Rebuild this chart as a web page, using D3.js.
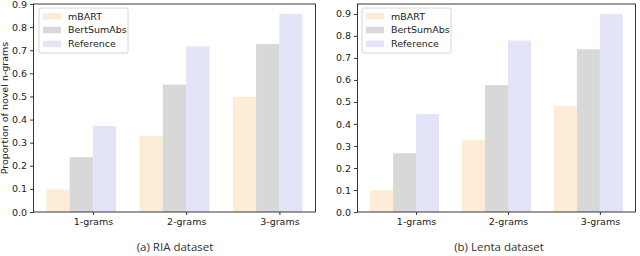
<!DOCTYPE html>
<html>
<head>
<meta charset="utf-8">
<script src="https://cdn.jsdelivr.net/npm/d3@7"></script>
<style>
  body { margin: 0; background: #fff; }
  text { font-family: "DejaVu Sans", sans-serif; }
</style>
</head>
<body>
<div class="chart"></div>
<script>
var categories = ["1-grams", "2-grams", "3-grams"];
var seriesNames = ["mBART", "BertSumAbs", "Reference"];
var seriesColors = ["#fdedd6", "#d8d8d8", "#e4e4f8"];

var riaMbart = [0.097, 0.329, 0.498];
var riaBert = [0.237, 0.551, 0.727];
var riaRef = [0.372, 0.717, 0.857];

var lentaMbart = [0.100, 0.327, 0.482];
var lentaBert = [0.267, 0.576, 0.739];
var lentaRef = [0.445, 0.779, 0.900];

var yTicks = [0, 0.1, 0.2, 0.3, 0.4, 0.5, 0.6, 0.7, 0.8, 0.9];

function init() {
  var w = 640;
  var h = 256;

  var svg = d3.select(".chart")
    .append("svg")
    .attr("width", w)
    .attr("height", h);

  drawPanel(svg, {
    left: 33.5, right: 315.5, top: 4, bottom: 212,
    yMax: 0.9,
    series: [riaMbart, riaBert, riaRef],
    caption: "(a) RIA dataset",
    captionX: 175,
    yTitle: "Proportion of novel n-grams",
    legendX: 39
  });

  drawPanel(svg, {
    left: 357.5, right: 635.5, top: 4, bottom: 212,
    yMax: 0.945,
    series: [lentaMbart, lentaBert, lentaRef],
    caption: "(b) Lenta dataset",
    captionX: 499,
    yTitle: null,
    legendX: 362
  });
}

function drawPanel(svg, p) {
  var barW = 0.25;

  // bars are edge-aligned: group i spans [i, i + 0.75], tick at i + 0.5
  var xScale = d3.scaleLinear()
    .domain([-0.1375, 2.8875])
    .range([p.left, p.right]);

  var yScale = d3.scaleLinear()
    .domain([0, p.yMax])
    .range([p.bottom, p.top]);

  var g = svg.append("g");

  p.series.forEach(function(vals, s) {
    g.selectAll(null)
      .data(vals)
      .enter()
      .append("rect")
      .attr("x", function(d, i) { return xScale(i + s * barW); })
      .attr("y", function(d) { return yScale(d); })
      .attr("width", xScale(barW) - xScale(0))
      .attr("height", function(d) { return yScale(0) - yScale(d); })
      .attr("fill", seriesColors[s]);
  });

  // frame
  g.append("rect")
    .attr("x", p.left)
    .attr("y", p.top)
    .attr("width", p.right - p.left)
    .attr("height", p.bottom - p.top)
    .attr("fill", "none")
    .attr("stroke", "#222")
    .attr("stroke-width", 0.9);

  var yAxis = d3.axisLeft(yScale)
    .tickValues(yTicks)
    .tickFormat(d3.format(".1f"))
    .tickSize(3.5)
    .tickPadding(3);

  var ya = g.append("g")
    .attr("transform", "translate(" + p.left + ",0)")
    .call(yAxis);
  ya.select(".domain").remove();
  ya.selectAll("line").attr("stroke", "#222").attr("stroke-width", 0.9);
  ya.selectAll("text").attr("font-size", "9.5px").attr("fill", "#222")
    .style("font-family", "DejaVu Sans, sans-serif");

  var xAxis = d3.axisBottom(xScale)
    .tickValues([0.5, 1.5, 2.5])
    .tickFormat(function(d, i) { return categories[i]; })
    .tickSize(3)
    .tickPadding(3.5);

  var xa = g.append("g")
    .attr("transform", "translate(0," + p.bottom + ")")
    .call(xAxis);
  xa.select(".domain").remove();
  xa.selectAll("line").attr("stroke", "#222").attr("stroke-width", 0.9);
  xa.selectAll("text").attr("font-size", "9.5px").attr("fill", "#222")
    .style("font-family", "DejaVu Sans, sans-serif");

  if (p.yTitle) {
    g.append("text")
      .attr("transform", "translate(8," + ((p.top + p.bottom) / 2) + ") rotate(-90)")
      .attr("text-anchor", "middle")
      .attr("font-size", "9.5px")
      .attr("fill", "#222")
      .text(p.yTitle);
  }

  g.append("text")
    .attr("x", p.captionX)
    .attr("y", 251)
    .attr("text-anchor", "middle")
    .attr("font-size", "11.5px")
    .attr("fill", "#333")
    .style("font-family", "'Open Sans', sans-serif")
    .text(p.caption);

  // legend
  var lg = g.append("g")
    .attr("transform", "translate(" + p.legendX + ",8)");
  lg.append("rect")
    .attr("width", 89)
    .attr("height", 45)
    .attr("rx", 2)
    .attr("fill", "#fff")
    .attr("fill-opacity", 0.8)
    .attr("stroke", "#ccc")
    .attr("stroke-width", 0.8);

  seriesNames.forEach(function(name, s) {
    lg.append("rect")
      .attr("x", 4)
      .attr("y", 5 + s * 13.8)
      .attr("width", 18)
      .attr("height", 6.5)
      .attr("fill", seriesColors[s]);
    lg.append("text")
      .attr("x", 29)
      .attr("y", 8.3 + s * 13.8)
      .attr("dy", "0.35em")
      .attr("font-size", "9.5px")
      .attr("fill", "#222")
      .text(name);
  });
}

window.onload = init;
</script>
</body>
</html>
